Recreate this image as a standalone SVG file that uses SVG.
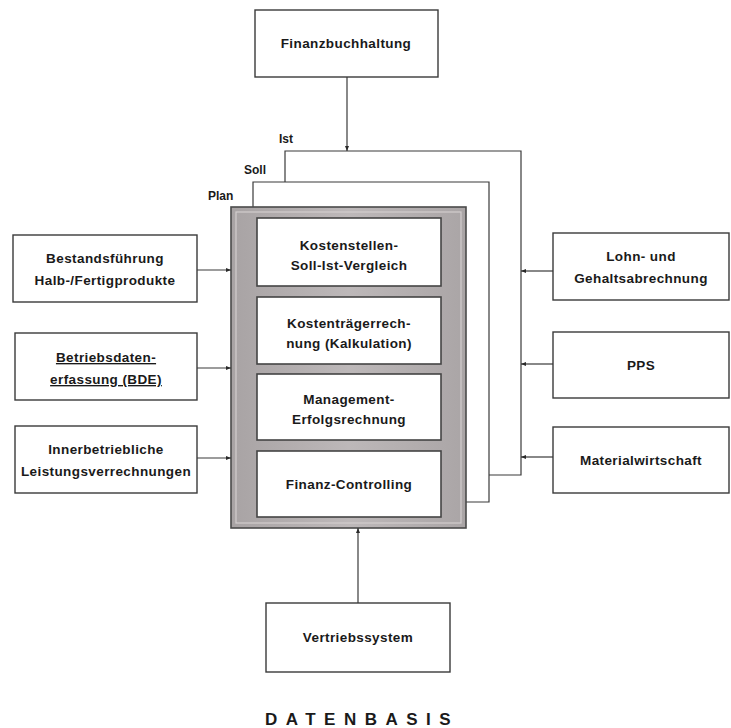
<svg xmlns="http://www.w3.org/2000/svg" width="731" height="728" viewBox="0 0 731 728">
<defs>
<style>
.box{fill:#fff;stroke:#3a3a3a;stroke-width:1.4}
.ibox{fill:#fff;stroke:#444;stroke-width:1.6}
.t{font-family:"Liberation Sans",Arial,sans-serif;font-weight:bold;font-size:13.5px;letter-spacing:0.4px;fill:#1a1a1a;text-anchor:middle}
.ln{fill:none;stroke:#3a3a3a;stroke-width:1.2}
.lb{font-family:"Liberation Sans",Arial,sans-serif;font-weight:bold;font-size:12px;fill:#1a1a1a}
</style>
<marker id="ah" viewBox="0 0 10 10" refX="10" refY="5" markerWidth="5" markerHeight="5" orient="auto" markerUnits="userSpaceOnUse">
<path d="M0,1 L10,5 L0,9 Z" fill="#2a2a2a"/>
</marker>
<linearGradient id="gr" x1="0" y1="0" x2="1" y2="0">
<stop offset="0" stop-color="#a8a3a4"/>
<stop offset="0.5" stop-color="#bdb8b9"/>
<stop offset="1" stop-color="#aaa5a6"/>
</linearGradient>
</defs>
<rect width="731" height="728" fill="#fff"/>

<g id="frames">
<path class="ln" d="M285,182 V151 H521 V475 H489"/>
<path class="ln" d="M253,207 V182 H489 V502 H466"/>
<text class="lb" x="279" y="143">Ist</text>
<text class="lb" x="244" y="174">Soll</text>
<text class="lb" x="208" y="200">Plan</text>
</g>

<g id="plan">
<rect x="231" y="207" width="235" height="321" fill="url(#gr)" stroke="#4a4a4a" stroke-width="1.6"/>
<rect x="236" y="212" width="225" height="311" fill="none" stroke="#d2cece" stroke-width="1.2"/>
</g>

<g id="n-kostenstellen">
<rect class="ibox" x="257" y="218" width="184" height="68"/>
<text class="t" x="349" y="250">Kostenstellen-</text>
<text class="t" x="349" y="270">Soll-Ist-Vergleich</text>
</g>
<g id="n-kostentraeger">
<rect class="ibox" x="257" y="297" width="184" height="67"/>
<text class="t" x="349" y="328">Kostenträgerrech-</text>
<text class="t" x="349" y="348">nung (Kalkulation)</text>
</g>
<g id="n-management">
<rect class="ibox" x="257" y="374" width="184" height="66"/>
<text class="t" x="349" y="404">Management-</text>
<text class="t" x="349" y="424">Erfolgsrechnung</text>
</g>
<g id="n-finanzcontrolling">
<rect class="ibox" x="257" y="451" width="184" height="66"/>
<text class="t" x="349" y="489">Finanz-Controlling</text>
</g>

<g id="n-finanzbuchhaltung">
<rect class="box" x="255" y="10" width="183" height="67"/>
<text class="t" x="346" y="48">Finanzbuchhaltung</text>
</g>

<g id="n-bestand">
<rect class="box" x="13" y="235" width="184" height="67"/>
<text class="t" x="105" y="263">Bestandsführung</text>
<text class="t" x="105" y="285">Halb-/Fertigprodukte</text>
</g>
<g id="n-bde">
<rect class="box" x="15" y="333" width="182" height="67"/>
<text class="t" x="106" y="362" text-decoration="underline">Betriebsdaten-</text>
<text class="t" x="106" y="384" text-decoration="underline">erfassung (BDE)</text>
</g>
<g id="n-innerbetrieblich">
<rect class="box" x="15" y="426" width="182" height="67"/>
<text class="t" x="106" y="454">Innerbetriebliche</text>
<text class="t" x="106" y="476">Leistungsverrechnungen</text>
</g>

<g id="n-lohn">
<rect class="box" x="553" y="233" width="176" height="67"/>
<text class="t" x="641" y="261">Lohn- und</text>
<text class="t" x="641" y="283">Gehaltsabrechnung</text>
</g>
<g id="n-pps">
<rect class="box" x="553" y="332" width="176" height="66"/>
<text class="t" x="641" y="370">PPS</text>
</g>
<g id="n-material">
<rect class="box" x="553" y="427" width="176" height="66"/>
<text class="t" x="641" y="465">Materialwirtschaft</text>
</g>

<g id="n-vertrieb">
<rect class="box" x="266" y="603" width="184" height="69"/>
<text class="t" x="358" y="642">Vertriebssystem</text>
</g>

<g id="connectors">
<line class="ln" x1="347" y1="77" x2="347" y2="151" marker-end="url(#ah)"/>
<line class="ln" x1="358" y1="603" x2="358" y2="528" marker-end="url(#ah)"/>
<line class="ln" x1="197" y1="270" x2="231" y2="270" marker-end="url(#ah)"/>
<line class="ln" x1="197" y1="368" x2="231" y2="368" marker-end="url(#ah)"/>
<line class="ln" x1="197" y1="458" x2="231" y2="458" marker-end="url(#ah)"/>
<line class="ln" x1="553" y1="271" x2="521" y2="271" marker-end="url(#ah)"/>
<line class="ln" x1="553" y1="364" x2="521" y2="364" marker-end="url(#ah)"/>
<line class="ln" x1="553" y1="457" x2="521" y2="457" marker-end="url(#ah)"/>
</g>

<text x="362" y="725" font-family="'Liberation Sans',Arial,sans-serif" font-size="17" font-weight="bold" letter-spacing="8.5" fill="#1a1a1a" text-anchor="middle">DATENBASIS</text>
</svg>
